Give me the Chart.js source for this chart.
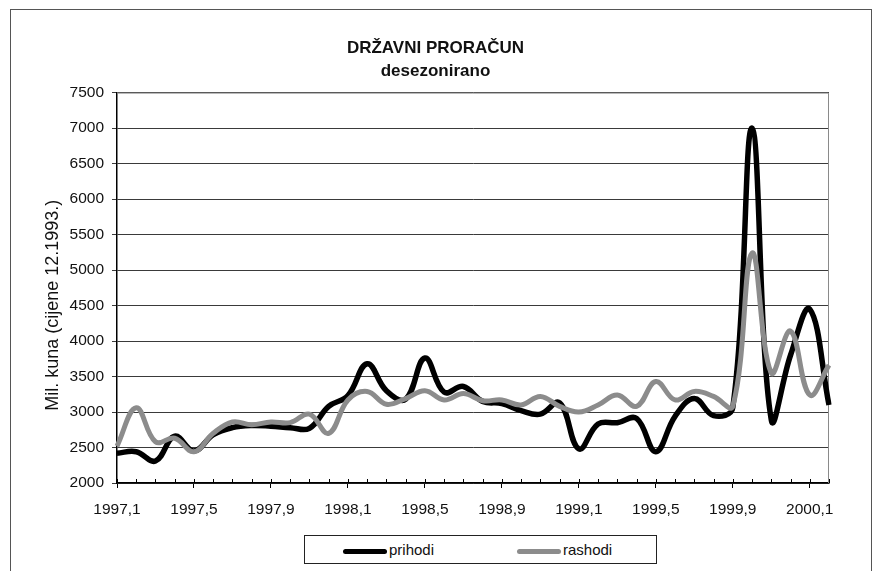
<!DOCTYPE html>
<html>
<head>
<meta charset="utf-8">
<title>Državni proračun</title>
<script src="https://cdn.jsdelivr.net/npm/chart.js@4.4.0/dist/chart.umd.min.js"></script>
<style>
    html, body { margin: 0; padding: 0; background: #fff; }
    #wrap { position: relative; width: 879px; height: 571px; overflow: hidden; }
    #chart { position: absolute; left: 0; top: 0; }
    #frame { position: absolute; left: 10px; top: 9px; width: 860px; height: 580px; border: 1px solid #555; }
    #legend {
        position: absolute; left: 304px; top: 535px; width: 351px; height: 27px;
        border: 1px solid #222; background: #fff;
        font: 15px 'Liberation Sans', Arial, sans-serif; color: #111;
    }
    .item { position: absolute; top: 0; height: 27px; line-height: 27px; white-space: nowrap; }
    .swatch { display: inline-block; width: 44px; height: 5px; border-radius: 3px; vertical-align: middle; margin-right: 2px; }
</style>
</head>
<body>
<div id="wrap">
    <div id="frame"></div>
    <canvas id="chart" width="879" height="571"></canvas>
    <div id="legend">
        <div class="item" style="left:38px"><span class="swatch" style="background:#000"></span>prihodi</div>
        <div class="item" style="left:212px"><span class="swatch" style="background:#8c8c8c"></span>rashodi</div>
    </div>
</div>
<script>
// === podaci (mjesečno, desezonirano) ===
const categories = [
    '1997,1', '1997,2', '1997,3', '1997,4', '1997,5', '1997,6', '1997,7', '1997,8', '1997,9', '1997,10', '1997,11', '1997,12',
    '1998,1', '1998,2', '1998,3', '1998,4', '1998,5', '1998,6', '1998,7', '1998,8', '1998,9', '1998,10', '1998,11', '1998,12',
    '1999,1', '1999,2', '1999,3', '1999,4', '1999,5', '1999,6', '1999,7', '1999,8', '1999,9', '1999,10', '1999,11', '1999,12',
    '2000,1', '2000,2'
];
const prihodi = [
    2420, 2440, 2310, 2660, 2450, 2680, 2780, 2810, 2800, 2780, 2770, 3080,
    3230, 3680, 3300, 3180, 3760, 3280, 3360, 3150, 3120, 3020, 2970, 3130,
    2480, 2830, 2850, 2910, 2440, 2940, 3190, 2950, 3060, 7000, 2890, 3800,
    4450, 3100
];
const rashodi = [
    2520, 3060, 2580, 2630, 2440, 2700, 2860, 2820, 2860, 2850, 2970, 2700,
    3170, 3290, 3110, 3190, 3300, 3170, 3260, 3160, 3170, 3100, 3220, 3080,
    3000, 3100, 3240, 3080, 3430, 3170, 3290, 3220, 3080, 5240, 3550, 4140,
    3240, 3660
];
const yMin = 2000;
const yMax = 7500;
const yStep = 500;

const textColor = '#111';
const fontFamily = "'Liberation Sans', Arial, sans-serif";

// okvir područja crtanja (gornja i desna siva linija) + kratke crtice iznad osi x
const plotFrame = {
    id: 'plotFrame',
    beforeDatasetsDraw(chart) {
        const { ctx, chartArea: a } = chart;
        const xScale = chart.scales.x;
        ctx.save();
        ctx.strokeStyle = '#8a8a8a';
        ctx.lineWidth = 1;
        ctx.beginPath();
        ctx.moveTo(a.left, a.top + 0.5);
        ctx.lineTo(a.right - 0.5, a.top + 0.5);
        ctx.lineTo(a.right - 0.5, a.bottom);
        ctx.stroke();
        ctx.strokeStyle = '#000';
        ctx.beginPath();
        categories.forEach((c, i) => {
            const x = Math.round(xScale.getPixelForValue(i)) + 0.5;
            ctx.moveTo(x, a.bottom - 4);
            ctx.lineTo(x, a.bottom);
        });
        ctx.stroke();
        ctx.restore();
    }
};

new Chart(document.getElementById('chart'), {
    type: 'line',
    data: {
        labels: categories,
        datasets: [
            { label: 'prihodi', data: prihodi, borderColor: '#000', borderWidth: 5.5, tension: 0.4, pointRadius: 0, fill: false, order: 1 },
            { label: 'rashodi', data: rashodi, borderColor: '#8c8c8c', borderWidth: 5, tension: 0.4, pointRadius: 0, fill: false, order: 0 }
        ]
    },
    options: {
        responsive: false,
        animation: false,
        layout: { padding: { left: 42, right: 50, top: 0, bottom: 0 } },
        plugins: {
            legend: { display: false },
            tooltip: { enabled: false },
            title: {
                display: true,
                text: ['DRŽAVNI PRORAČUN', 'desezonirano'],
                color: textColor,
                font: { family: fontFamily, size: 17, weight: 'bold', lineHeight: 1.4 },
                padding: { top: 36, bottom: 9 }
            }
        },
        scales: {
            x: {
                offset: false,
                grid: { drawOnChartArea: false, color: '#000', tickLength: 5 },
                border: { color: '#000', width: 1.5 },
                ticks: {
                    autoSkip: false, maxRotation: 0, padding: 12,
                    color: textColor, font: { family: fontFamily, size: 15.5 },
                    callback: (v, i) => (i % 4 === 0 ? categories[i] : null)
                },
                afterFit: (s) => { s.height = 88; }
            },
            y: {
                min: yMin, max: yMax,
                grid: { color: '#3a3a3a', lineWidth: 1, tickLength: 5 },
                border: { color: '#000', width: 1.5 },
                ticks: {
                    stepSize: yStep, padding: 8, color: textColor,
                    font: { family: fontFamily, size: 15.5 },
                    callback: (v) => String(v)
                },
                title: {
                    display: true,
                    text: 'Mil. kuna (cijene 12.1993.)\u00a0\u00a0\u00a0\u00a0\u00a0\u00a0\u00a0',
                    color: textColor,
                    font: { family: fontFamily, size: 18 },
                    padding: { top: 0, bottom: 0 }
                },
                afterFit: (s) => { s.width = 75; }
            }
        }
    },
    plugins: [plotFrame]
});
</script>
</body>
</html>
